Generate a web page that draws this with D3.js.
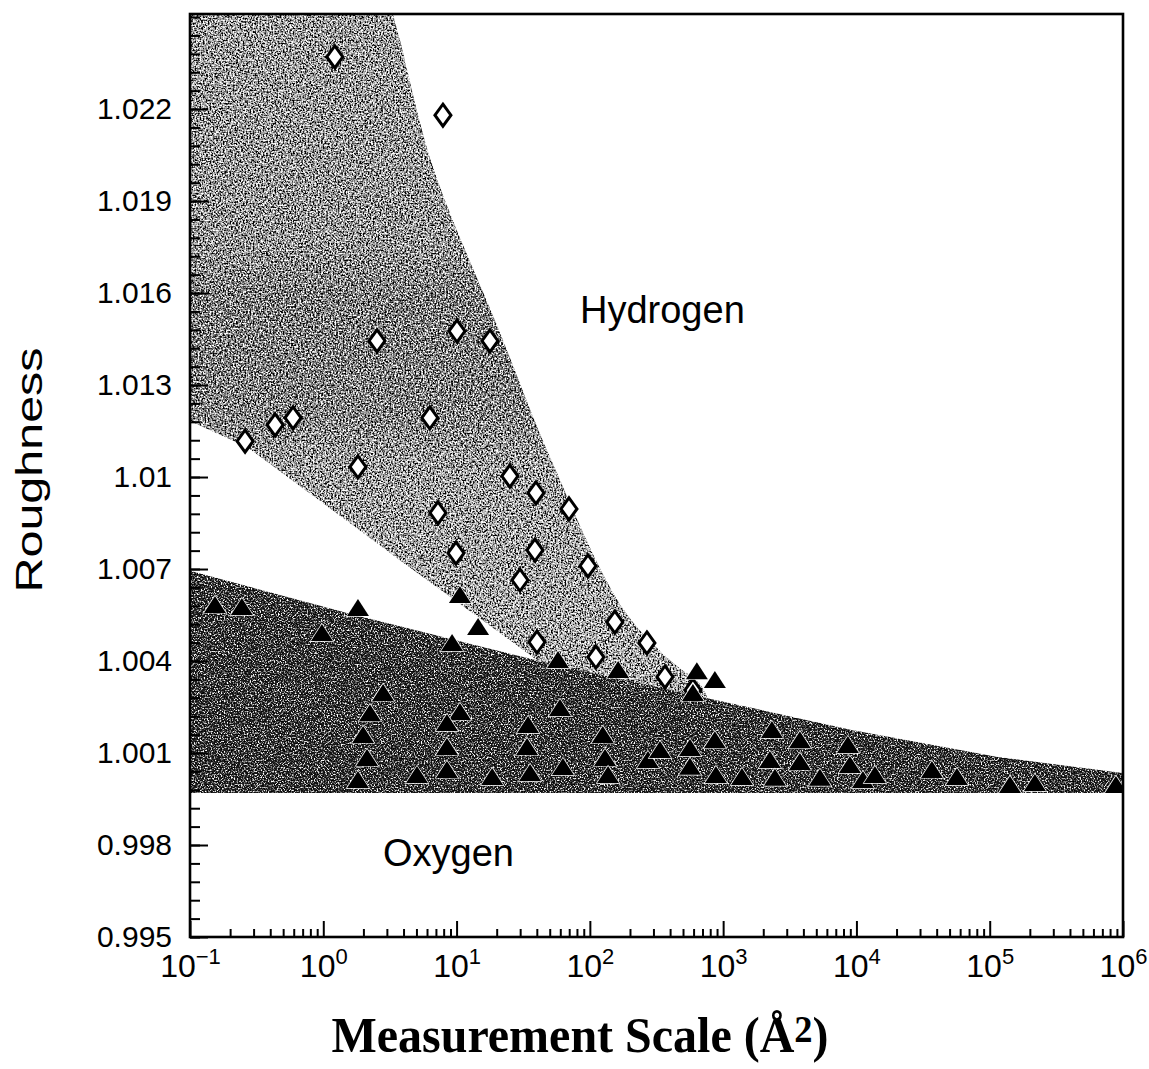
<!DOCTYPE html>
<html>
<head>
<meta charset="utf-8">
<script src="https://cdn.jsdelivr.net/npm/d3@7"></script>
<style>
  body { margin: 0; background: #fff; }
</style>
</head>
<body>
<svg id="chart" width="1149" height="1069"></svg>
<script>
// hydrogen band, upper / right edge (left to right)
var hydTopX = [0.1, 3.33, 3.76, 6.65, 21.2, 50.2, 180, 420, 658, 769, 800];
var hydTopY = [1.0251, 1.0251, 1.02425, 1.02011, 1.0147, 1.01065, 1.00566, 1.00394, 1.00328, 1.00273, 1.0020];
// hydrogen band, lower edge
var hydBotX = [0.1, 0.268, 3.76, 35.6, 168];
var hydBotY = [1.01183, 1.01098, 1.00729, 1.0042, 1.00204];

// oxygen band, upper edge and flat base
var oxyTopX = [0.1, 1.51, 8.47, 47.6, 693, 9250, 115300, 1e6];
var oxyTopY = [1.00694, 1.00557, 1.00475, 1.00394, 1.00283, 1.00175, 1.00087, 1.00035];
var oxyBase = 0.9997;

// hydrogen points (open diamonds)
var hX = [1.22, 7.9, 2.53, 10.07, 17.8, 0.259, 0.435, 0.593, 6.3, 1.82, 7.25, 25.1,
          39.4, 69.7, 9.9, 38.7, 29.9, 96.8, 40.1, 154, 111, 268, 366, 593];
var hY = [1.0237, 1.0218, 1.01444, 1.01476, 1.01444, 1.01117, 1.0117, 1.01193, 1.01193, 1.01033, 1.00883, 1.01003,
          1.00948, 1.00896, 1.00752, 1.00762, 1.00664, 1.0071, 1.00462, 1.00527, 1.00413, 1.00459, 1.00348, 1.00305];

// oxygen points (filled triangles)
var oX = [0.154, 0.245, 1.82, 0.977, 10.6, 14.5, 9.25, 57.7, 163, 635, 867, 593,
          2.81, 2.24, 1.99, 2.13, 1.82, 5.05, 10.6, 8.47, 8.47, 8.47, 18.5, 34.4,
          33.8, 35.6, 59.7, 62.8, 125, 130, 137, 273, 336, 564, 564, 867,
          883, 1384, 2323, 2244, 2447, 3767, 5321, 8630, 8933, 11190, 13770, 36840,
          56750, 141900, 218300, 885000, 3767];
var oY = [1.00583, 1.00576, 1.00573, 1.00491, 1.00615, 1.00511, 1.00459, 1.00403, 1.00371, 1.00367, 1.00338, 1.00296,
          1.00296, 1.0023, 1.00159, 1.00084, 1.00012, 1.00028, 1.00234, 1.00198, 1.0012, 1.00045, 1.00022, 1.00191,
          1.0012, 1.00035, 1.00247, 1.00054, 1.00159, 1.00084, 1.00028, 1.00077, 1.0011, 1.00055, 1.00116, 1.00142,
          1.00028, 1.00022, 1.00175, 1.00077, 1.00019, 1.00071, 1.00019, 1.00126, 1.00061, 1.00012, 1.00028, 1.00045,
          1.00022, 0.99996, 1.00002, 0.99996, 1.00142];

// axis ticks
var decades = [0.1, 1, 10, 100, 1000, 1e4, 1e5, 1e6];
var decadeExp = ["\u22121", "0", "1", "2", "3", "4", "5", "6"];
var yTicks = [0.995, 0.998, 1.001, 1.004, 1.007, 1.010, 1.013, 1.016, 1.019, 1.022];
var yTickLabels = ["0.995", "0.998", "1.001", "1.004", "1.007", "1.01", "1.013", "1.016", "1.019", "1.022"];

var sans = "'Liberation Sans', Arial, Helvetica, sans-serif";
var serif = "'Liberation Serif', 'Times New Roman', serif";

var svg = d3.select("#chart");
var x = d3.scaleLog().domain([0.1, 1e6]).range([190, 1123]);
var y = d3.scaleLinear().domain([0.995, 1.0251]).range([937, 14]);

var defs = svg.append("defs");
defs.append("clipPath").attr("id", "plot")
  .append("rect").attr("x", 190).attr("y", 14).attr("width", 933).attr("height", 923);

// grey shading of the hydrogen band, darker strip around 1.013-1.016
var grad = defs.append("linearGradient").attr("id", "hydGrad")
  .attr("gradientUnits", "userSpaceOnUse")
  .attr("x1", 0).attr("y1", 14).attr("x2", 0).attr("y2", 720);
[[0, "#a4a4a4"], [0.33, "#9a9a9a"], [0.4, "#7c7c7c"], [0.56, "#828282"], [0.64, "#a8a8a8"], [1, "#b2b2b2"]]
  .forEach(function (s) {
    grad.append("stop").attr("offset", s[0]).attr("stop-color", s[1]);
  });

// printed stipple texture
function grain(id, freq, seed, k) {
  var f = defs.append("filter").attr("id", id)
    .attr("color-interpolation-filters", "sRGB");
  f.append("feTurbulence").attr("type", "fractalNoise")
    .attr("baseFrequency", freq).attr("numOctaves", 2).attr("seed", seed).attr("result", "n");
  var b = 0.5 - k / 2;
  var row = k + " 0 0 0 " + b;
  f.append("feColorMatrix").attr("in", "n").attr("type", "matrix")
    .attr("values", row + "  " + row + "  " + row + "  0 0 0 0 1")
    .attr("result", "g");
  f.append("feBlend").attr("in", "g").attr("in2", "SourceGraphic").attr("mode", "hard-light").attr("result", "b");
  f.append("feComposite").attr("in", "b").attr("in2", "SourceGraphic").attr("operator", "in");
}
grain("grainH", 0.6, 3, 2.6);
grain("grainO", 0.7, 7, 2.2);

var plot = svg.append("g").attr("clip-path", "url(#plot)");

var line = d3.line().x(function (d) { return x(d[0]); }).y(function (d) { return y(d[1]); });
var smooth = d3.line().curve(d3.curveCatmullRom.alpha(0.5))
  .x(function (d) { return x(d[0]); }).y(function (d) { return y(d[1]); });
var topPts = d3.zip(hydTopX, hydTopY);
var botPts = d3.zip(hydBotX, hydBotY).reverse();
var hydPath = "M" + x(topPts[0][0]) + "," + y(topPts[0][1]) +
  "L" + smooth(topPts.slice(1)).slice(1) +
  "L" + line(botPts).slice(1) + "Z";
plot.append("path")
  .attr("d", hydPath)
  .attr("fill", "url(#hydGrad)")
  .attr("filter", "url(#grainH)");

var oxyArea = d3.area()
  .x(function (d) { return x(d[0]); })
  .y0(y(oxyBase))
  .y1(function (d) { return y(d[1]); });
plot.append("path")
  .attr("d", oxyArea(d3.zip(oxyTopX, oxyTopY)))
  .attr("fill", "#232323")
  .attr("filter", "url(#grainO)");

// markers
plot.selectAll(".dia").data(d3.zip(hX, hY)).enter().append("path")
  .attr("class", "dia")
  .attr("transform", function (d) { return "translate(" + x(d[0]) + "," + y(d[1]) + ")"; })
  .attr("d", "M0,-11L8,0L0,11L-8,0Z")
  .attr("fill", "#fff")
  .attr("stroke", "#000")
  .attr("stroke-width", 3);

plot.selectAll(".tri").data(d3.zip(oX, oY)).enter().append("path")
  .attr("class", "tri")
  .attr("transform", function (d) { return "translate(" + x(d[0]) + "," + y(d[1]) + ")"; })
  .attr("d", "M0,-9L11,8L-11,8Z")
  .attr("fill", "#000")
  .attr("stroke", "#fff")
  .attr("stroke-width", 1.4)
  .attr("paint-order", "stroke");

// y axis, ticks pointing inward
var yMinor = d3.range(0, 51).map(function (i) { return +(0.995 + i * 0.0006).toFixed(4); });
var gyMinor = svg.append("g").attr("transform", "translate(190,0)")
  .call(d3.axisLeft(y).tickValues(yMinor).tickSize(-10).tickFormat(""));
gyMinor.select(".domain").remove();
gyMinor.selectAll("line").attr("stroke-width", 2);

var gy = svg.append("g").attr("transform", "translate(190,0)")
  .call(d3.axisLeft(y).tickValues(yTicks).tickSize(-18).tickPadding(18)
    .tickFormat(function (d, i) { return yTickLabels[i]; }));
gy.select(".domain").remove();
gy.selectAll("line").attr("stroke-width", 2);
gy.attr("font-size", 30).attr("font-family", sans);
gy.selectAll("text").attr("fill", "#000");

// x axis
var xMinor = [];
decades.slice(0, -1).forEach(function (d) {
  for (var m = 2; m < 10; m++) xMinor.push(d * m);
});
var gxMinor = svg.append("g").attr("transform", "translate(0,937)")
  .call(d3.axisBottom(x).tickValues(xMinor).tickSize(-8).tickFormat(""));
gxMinor.select(".domain").remove();
gxMinor.selectAll("line").attr("stroke-width", 2);

var gx = svg.append("g").attr("transform", "translate(0,937)")
  .call(d3.axisBottom(x).tickValues(decades).tickSize(-16).tickFormat(""));
gx.select(".domain").remove();
gx.selectAll("line").attr("stroke-width", 2);
gx.selectAll(".tick text")
  .attr("y", 40).attr("dy", null)
  .attr("font-size", 32).attr("font-family", sans).attr("fill", "#000")
  .each(function (d, i) {
    var t = d3.select(this);
    t.append("tspan").text("10");
    t.append("tspan").attr("dy", -13).attr("font-size", 22).text(decadeExp[i]);
  });

// frame
svg.append("rect")
  .attr("x", 190).attr("y", 14).attr("width", 933).attr("height", 923)
  .attr("fill", "none").attr("stroke", "#000").attr("stroke-width", 2.6);

// labels
svg.append("text")
  .attr("transform", "translate(42,470) rotate(-90)")
  .attr("text-anchor", "middle")
  .attr("font-family", sans).attr("font-size", 36)
  .attr("textLength", 245).attr("lengthAdjust", "spacingAndGlyphs")
  .text("Roughness");

var title = svg.append("text")
  .attr("transform", "translate(580,1052) scale(0.96,1)")
  .attr("text-anchor", "middle")
  .attr("font-family", serif).attr("font-size", 50).attr("font-weight", "bold");
title.append("tspan").text("Measurement Scale (\u00c5");
title.append("tspan").attr("font-size", 38).attr("dy", -10).text("2");
title.append("tspan").attr("dy", 10).text(")");

svg.append("text")
  .attr("x", 580).attr("y", 323)
  .attr("font-family", sans).attr("font-size", 38)
  .text("Hydrogen");

svg.append("text")
  .attr("x", 383).attr("y", 866)
  .attr("font-family", sans).attr("font-size", 38)
  .text("Oxygen");
</script>
</body>
</html>
